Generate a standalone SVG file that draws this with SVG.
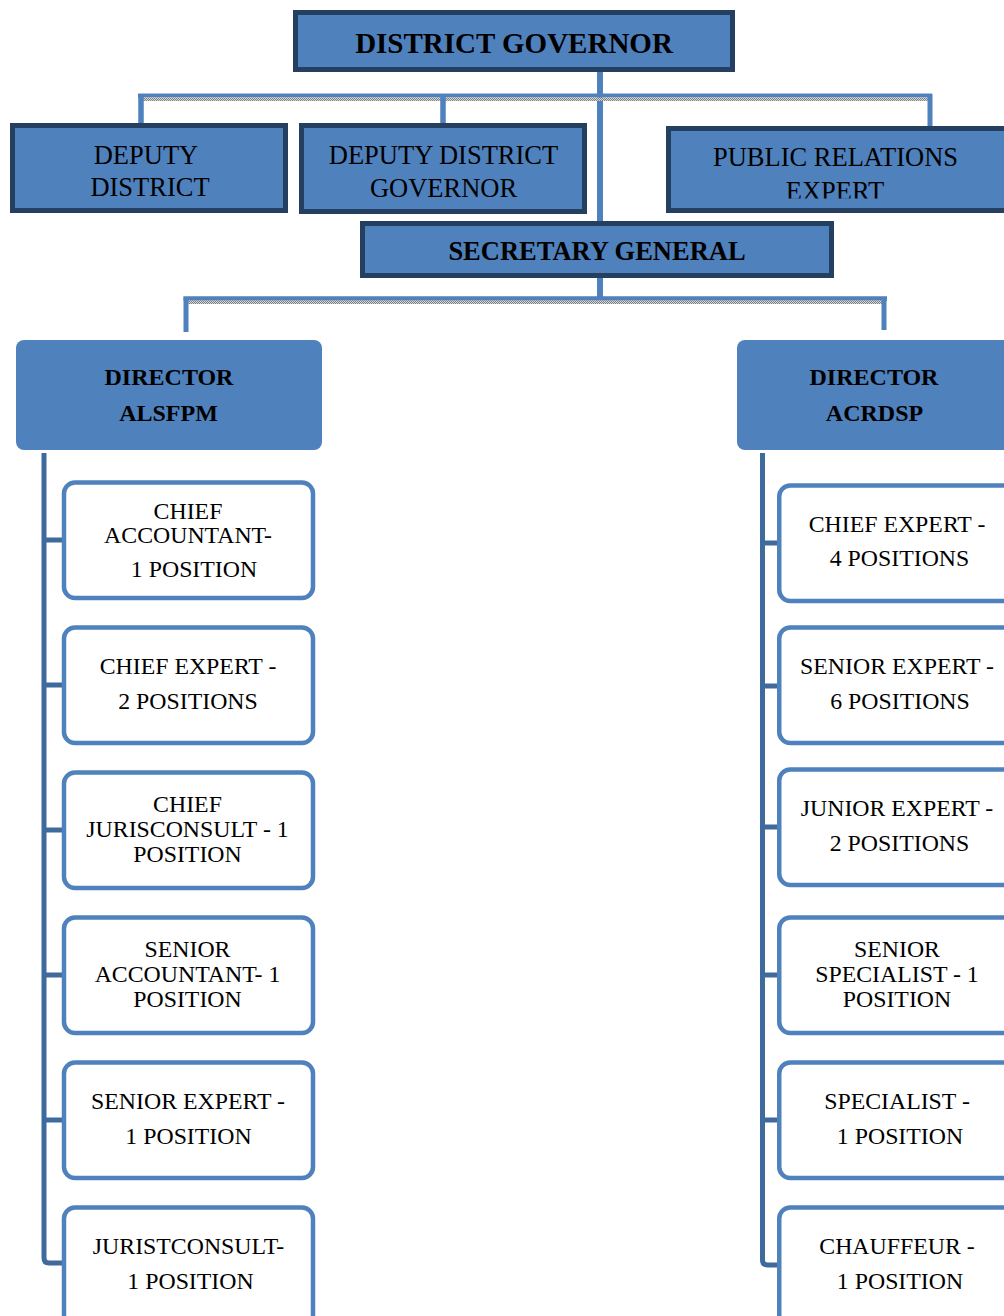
<svg xmlns="http://www.w3.org/2000/svg" width="1004" height="1316" viewBox="0 0 1004 1316">
<defs>
<pattern id="dots" width="2" height="2" patternUnits="userSpaceOnUse"><rect width="2" height="2" fill="#d8d8d8"/><rect width="1" height="1" fill="#7f7f7f"/><rect x="1" y="1" width="1" height="1" fill="#7f7f7f"/></pattern>
<clipPath id="prclip"><rect x="668" y="128" width="340" height="70.5"/></clipPath>
</defs>
<style>
.top{fill:#4F81BD;stroke:#243F60;stroke-width:5}
.dir{fill:#4F81BD}
.child{fill:#ffffff;stroke:#4F81BD;stroke-width:4.5}
.conn{stroke:#4F81BD;fill:none}
.spine{stroke:#3F6A9E;stroke-width:5;fill:none}
text{font-family:"Liberation Serif","Times New Roman",serif;fill:#000;text-anchor:middle}
.t26{font-size:26.5px}
.b29{font-size:29px;font-weight:bold}
.b26{font-size:26.5px;font-weight:bold}
.b24{font-size:24px;font-weight:bold}
.t24{font-size:23.8px}
</style>
<rect width="1004" height="1316" fill="#ffffff"/>
<g id="connectors">
<line class="conn" x1="600" y1="72" x2="600" y2="223" stroke-width="6"/>
<line class="conn" x1="138" y1="95.5" x2="932" y2="95.5" stroke-width="4"/>
<rect x="141" y="97.5" width="788" height="3.5" fill="url(#dots)"/>
<line class="conn" x1="141" y1="94" x2="141" y2="125" stroke-width="5.5"/>
<line class="conn" x1="443" y1="97" x2="443" y2="124" stroke-width="5.5"/>
<line class="conn" x1="930" y1="94" x2="930" y2="128" stroke-width="5"/>
<line class="conn" x1="600" y1="277" x2="600" y2="299" stroke-width="6"/>
<line class="conn" x1="183.5" y1="298.5" x2="887" y2="298.5" stroke-width="4.5"/>
<rect x="188" y="300.5" width="694" height="3.5" fill="url(#dots)"/>
<line class="conn" x1="186" y1="297" x2="186" y2="332" stroke-width="5"/>
<line class="conn" x1="884" y1="297" x2="884" y2="330" stroke-width="5"/>
<path class="spine" d="M44,453 V1258 Q44,1263 49,1263 H64"/>
<path class="spine" d="M44,540 H64 M44,685 H64 M44,830 H64 M44,975 H64 M44,1120 H64"/>
<path class="spine" d="M762.5,453 V1260 Q762.5,1265 767.5,1265 H779"/>
<path class="spine" d="M762.5,543 H779 M762.5,686 H779 M762.5,827 H779 M762.5,975 H779 M762.5,1120 H779"/>
</g>
<g id="district-governor">
<rect class="top" x="295.5" y="12.5" width="437" height="57"/>
<text class="b29" x="514" y="53">DISTRICT GOVERNOR</text>
</g>
<g id="deputy-district">
<rect class="top" x="12.5" y="125.5" width="273" height="85"/>
<text class="t26" x="146" y="164">DEPUTY</text>
<text class="t26" x="150" y="196">DISTRICT</text>
</g>
<g id="deputy-district-governor">
<rect class="top" x="301.5" y="125.5" width="283" height="86"/>
<text class="t26" x="443.5" y="164">DEPUTY DISTRICT</text>
<text class="t26" x="443.5" y="197">GOVERNOR</text>
</g>
<g id="public-relations-expert">
<rect x="668.5" y="128.5" width="340" height="82" fill="#4F81BD"/>
<text class="t26" x="835.5" y="166">PUBLIC RELATIONS</text>
<text class="t26" x="835" y="200" clip-path="url(#prclip)">EXPERT</text>
<rect x="668.5" y="128.5" width="340" height="82" fill="none" stroke="#243F60" stroke-width="5"/>
</g>
<g id="secretary-general">
<rect class="top" x="362.5" y="223.5" width="469" height="52"/>
<text class="b26" x="597" y="260">SECRETARY GENERAL</text>
</g>
<g id="director-alsfpm">
<rect class="dir" x="16" y="340" width="306" height="110" rx="8"/>
<text class="b24" x="169" y="385">DIRECTOR</text>
<text class="b24" x="168.5" y="421">ALSFPM</text>
</g>
<g id="director-acrdsp">
<rect class="dir" x="737" y="340" width="290" height="110" rx="8"/>
<text class="b24" x="874" y="385">DIRECTOR</text>
<text class="b24" x="874.5" y="421">ACRDSP</text>
</g>
<g id="chief-accountant">
<rect class="child" x="64" y="482.5" width="249" height="115.5" rx="11"/>
<text class="t24" x="188" y="519">CHIEF</text>
<text class="t24" x="188" y="543">ACCOUNTANT-</text>
<text class="t24" x="194" y="577">1 POSITION</text>
</g>
<g id="chief-expert-left">
<rect class="child" x="64" y="627.5" width="249" height="115.5" rx="11"/>
<text class="t24" x="188" y="674">CHIEF EXPERT -</text>
<text class="t24" x="188" y="709">2 POSITIONS</text>
</g>
<g id="chief-jurisconsult">
<rect class="child" x="64" y="772.5" width="249" height="115.5" rx="11"/>
<text class="t24" x="187.5" y="812">CHIEF</text>
<text class="t24" x="187.5" y="837">JURISCONSULT - 1</text>
<text class="t24" x="187.5" y="862">POSITION</text>
</g>
<g id="senior-accountant">
<rect class="child" x="64" y="917.5" width="249" height="115.5" rx="11"/>
<text class="t24" x="187.5" y="957">SENIOR</text>
<text class="t24" x="187.5" y="982">ACCOUNTANT- 1</text>
<text class="t24" x="187.5" y="1007">POSITION</text>
</g>
<g id="senior-expert-left">
<rect class="child" x="64" y="1062.5" width="249" height="115.5" rx="11"/>
<text class="t24" x="188" y="1109">SENIOR EXPERT -</text>
<text class="t24" x="188.5" y="1144">1 POSITION</text>
</g>
<g id="juristconsult">
<rect class="child" x="64" y="1207.5" width="249" height="130" rx="11"/>
<text class="t24" x="188.5" y="1254">JURISTCONSULT-</text>
<text class="t24" x="190.5" y="1289">1 POSITION</text>
</g>
<g id="chief-expert-right">
<rect class="child" x="779.25" y="485.5" width="250" height="115.5" rx="11"/>
<text class="t24" x="897" y="532">CHIEF EXPERT -</text>
<text class="t24" x="899.5" y="566">4 POSITIONS</text>
</g>
<g id="senior-expert-right">
<rect class="child" x="779.25" y="627.5" width="250" height="115.5" rx="11"/>
<text class="t24" x="897" y="674">SENIOR EXPERT -</text>
<text class="t24" x="900" y="709">6 POSITIONS</text>
</g>
<g id="junior-expert">
<rect class="child" x="779.25" y="769.5" width="250" height="115.5" rx="11"/>
<text class="t24" x="897" y="816">JUNIOR EXPERT -</text>
<text class="t24" x="899.5" y="851">2 POSITIONS</text>
</g>
<g id="senior-specialist">
<rect class="child" x="779.25" y="917.5" width="250" height="115.5" rx="11"/>
<text class="t24" x="897" y="957">SENIOR</text>
<text class="t24" x="897" y="982">SPECIALIST - 1</text>
<text class="t24" x="897" y="1007">POSITION</text>
</g>
<g id="specialist">
<rect class="child" x="779.25" y="1062.5" width="250" height="115.5" rx="11"/>
<text class="t24" x="897" y="1109">SPECIALIST -</text>
<text class="t24" x="900" y="1144">1 POSITION</text>
</g>
<g id="chauffeur">
<rect class="child" x="779.25" y="1207.5" width="250" height="130" rx="11"/>
<text class="t24" x="897" y="1254">CHAUFFEUR -</text>
<text class="t24" x="900" y="1289">1 POSITION</text>
</g>
</svg>
